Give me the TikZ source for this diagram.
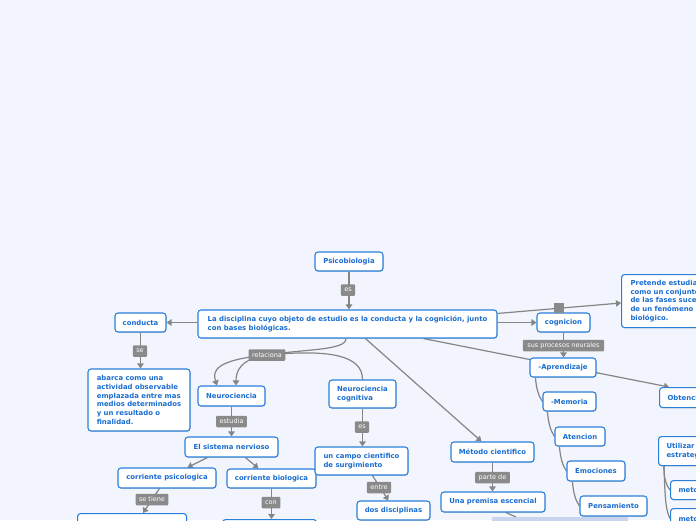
\documentclass[tikz,border=0pt]{standalone}
\usepackage{fontspec}
\setmainfont{DejaVu Sans}
\usetikzlibrary{arrows.meta,calc,shadows}
\definecolor{bgc}{HTML}{F2F5FD}
\definecolor{bblue}{HTML}{2A7FDB}
\definecolor{tblue}{HTML}{1A6DD0}
\definecolor{lgray}{HTML}{8A8A8A}
\definecolor{cgray}{HTML}{858585}
\definecolor{lightbox}{HTML}{C9D5EE}
\pgfdeclarelayer{back}\pgfdeclarelayer{edges}\pgfsetlayers{back,edges,main}
\begin{document}
\begin{tikzpicture}[x=1pt,y=-1pt,
 box/.style={draw=bblue, fill=white, rounded corners=3pt, line width=1.1pt, text=tblue,
   font=\bfseries\fontsize{6.9}{8.8}\selectfont, inner sep=0pt, align=left,
   drop shadow={shadow xshift=0.5pt,shadow yshift=-0.8pt,opacity=0.25,fill=black!60}},
 lab/.style={fill=lgray, text=white, font=\fontsize{6.5}{7}\selectfont, inner xsep=3.5pt,
   inner ysep=0pt, minimum height=11.5pt, rounded corners=1pt},
 conn/.style={draw=cgray, line width=1.2pt},
 arr/.style={conn, -{Triangle[width=6.5pt,length=5pt]}},
]
\useasboundingbox (0,0) rectangle (696,520);
\begin{pgfonlayer}{back}
\fill[bgc] (0,0) rectangle (696,520);
\end{pgfonlayer}
\clip (0,0) rectangle (696,520);

% nodes
\node[box, minimum width=68pt, minimum height=19pt] (psi) at (349,261.5) {Psicobiologia};
\node[box, minimum width=299pt, minimum height=28pt] (main) at (347.5,324) {La disciplina cuyo objeto de estudio es la conducta y la cognición, junto\\con bases biológicas.};
\node[box, minimum width=51pt, minimum height=19pt] (cond) at (140.5,322.5) {conducta};
\node[box, minimum width=102pt, minimum height=62pt] (abar) at (139,400) {abarca como una\\actividad observable\\emplazada entre mas\\medios determinados\\y un resultado o\\finalidad.};
\node[box, minimum width=53pt, minimum height=19pt] (cog) at (563.5,322.5) {cognicion};
\node[box, anchor=north west, minimum height=53pt, text width=95pt, inner xsep=9pt] (pre) at (621,274) {Pretende estudiar\\como un conjunto\\de las fases sucesivas\\de un fenómeno\\biológico.};
\node[box, minimum width=66pt, minimum height=19pt] (apr) at (563,367.5) {-Aprendizaje};
\node[box, anchor=north west, minimum height=20pt, inner xsep=8pt] (obt) at (659,387) {Obtención};
\node[box, minimum width=53pt, minimum height=19pt] (mem) at (569.5,401.5) {-Memoria};
\node[box, minimum width=50pt, minimum height=19pt] (ate) at (580,436.5) {Atencion};
\node[box, minimum width=58pt, minimum height=20pt] (emo) at (596,471) {Emociones};
\node[box, minimum width=67pt, minimum height=20pt] (pen) at (613.5,506) {Pensamiento};
\node[box, anchor=north west, minimum height=29pt, inner xsep=8pt] (uti) at (658,436) {Utilizar\\estrategias};
\node[box, anchor=north west, minimum height=19pt, inner xsep=8pt] (mt1) at (670,480) {metodos};
\node[box, anchor=north west, minimum height=20pt, inner xsep=8pt] (mt2) at (670,508) {metodos};
\node[box, minimum width=67pt, minimum height=20pt] (neu) at (231.5,396) {Neurociencia};
\node[box, minimum width=93pt, minimum height=20pt] (sis) at (231.5,447) {El sistema nervioso};
\node[box, minimum width=98pt, minimum height=20pt] (psc) at (167,478) {corriente psicologica};
\node[box, minimum width=89pt, minimum height=19pt] (bio) at (271.5,478.5) {corriente biologica};
\node[box, anchor=north west, minimum width=109pt, minimum height=20pt] (c1) at (77,513) {};
\node[box, anchor=north west, minimum width=94pt, minimum height=20pt] (c2) at (222,519) {};
\node[box, minimum width=67pt, minimum height=28pt] (ncog) at (362.5,394) {Neurociencia\\cognitiva};
\node[box, minimum width=93pt, minimum height=28pt] (camp) at (361.5,461) {un campo cientifico\\de surgimiento};
\node[box, minimum width=73pt, minimum height=19pt] (dos) at (393.5,510.5) {dos disciplinas};
\node[box, minimum width=83pt, minimum height=20pt] (met) at (492.5,452) {Método cientifico};
\node[box, minimum width=104pt, minimum height=20pt] (prem) at (493,502) {Una premisa escencial};
\node[fill=lightbox, anchor=north west, minimum width=136pt, minimum height=10pt, inner sep=0pt] (nx) at (492,517) {};

% connectors
\begin{pgfonlayer}{edges}
\draw[arr] (psi.south) -- (psi.south|-main.north);
\draw[arr] (main.west|-cond.east) -- (cond.east);
\draw[arr] (cond.south) -- (cond.south|-abar.north);
\draw[arr] (main.east|-cog.west) -- (cog.west);
\draw[arr] ($(main.north east)+(0,4)$) -- ($(pre.north west)+(0,29)$);
\draw[arr] (cog.south) -- (cog.south|-apr.north);
\draw[arr] ($(main.south west)+(226,0)$) -- ($(obt.north west)+(10,0)$);
\draw[conn] ($(apr.south west)+(6,0)$) .. controls +(1,12) and ($(mem.west)+(-4,-6)$) .. (mem.west);
\draw[conn] ($(mem.south west)+(5,0)$) .. controls +(1,12) and ($(ate.west)+(-4,-6)$) .. (ate.west);
\draw[conn] ($(ate.south west)+(5,0)$) .. controls +(1,12) and ($(emo.west)+(-4,-6)$) .. (emo.west);
\draw[conn] ($(emo.south west)+(6,0)$) .. controls +(1,12) and ($(pen.west)+(-4,-6)$) .. (pen.west);
\draw[conn] ($(uti.south west)+(6,0)$) .. controls +(0,14) and ($(mt1.west)+(-4,-6)$) .. (mt1.west);
\draw[conn] ($(uti.south west)+(6,0)$) .. controls +(1,35) and ($(mt2.west)+(-4,-8)$) .. (mt2.west);
\draw[arr] ($(main.south)+(-1.5,0)$) .. controls +(0,12) and (305,349) .. (267,355) .. controls (240,359) and ($(neu.north)+(4.5,-14)$) .. ($(neu.north)+(4.5,0)$);
\draw[arr] (ncog.north) .. controls +(0,-24) and (330,349) .. (267,355) .. controls (214,360) and ($(neu.north)+(-19,-14)$) .. ($(neu.north)+(-14.5,0)$);
\draw[arr] (neu.south) -- (sis.north);
\draw[arr] ($(sis.south west)+(23,0)$) -- ($(psc.north west)+(70,0)$);
\draw[arr] ($(sis.south west)+(61,0)$) -- ($(bio.north west)+(32,0)$);
\draw[arr] ($(psc.south west)+(42,0)$) -- ($(c1.north west)+(66,0)$);
\draw[arr] (bio.south) -- (bio.south|-c2.north);
\draw[arr] (ncog.south) -- (ncog.south|-camp.north);
\draw[arr] ($(camp.south west)+(58,0)$) -- ($(dos.north west)+(32,0)$);
\draw[arr] ($(main.south west)+(168,0)$) -- ($(met.north west)+(31,0)$);
\draw[arr] (met.south) -- (met.south|-prem.north);
\draw[conn] ($(prem.south)+(13,0)$) -- ($(nx.north west)+(24,0)$);
\end{pgfonlayer}

% labels
\node[lab] (l1) at (348,290) {es};
\node[lab] (l2) at (140,351) {se};
\node[fill=lgray, minimum size=10pt, inner sep=0pt] (l3) at (559,308) {};
\node[lab, inner xsep=4.5pt] (l4) at (563.5,345.5) {sus procesos neurales};
\node[lab] (l5) at (267,355) {relaciona};
\node[lab] (l6) at (231.5,421.5) {estudia};
\node[lab] (l7) at (152,499.5) {se tiene};
\node[lab] (l8) at (271,502.5) {con};
\node[lab] (l9) at (362,427) {es};
\node[lab] (l10) at (379,487.5) {entre};
\node[lab] (l11) at (492.5,477.5) {parte de};
\end{tikzpicture}
\end{document}
